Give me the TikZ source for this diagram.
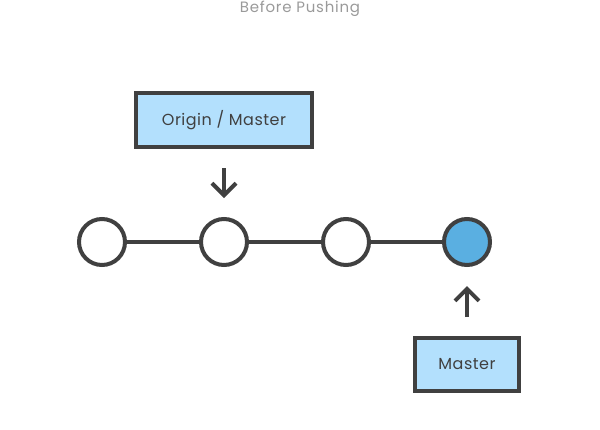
\documentclass[tikz,border=0pt]{standalone}
\usepackage{fontspec}
\setmainfont{Poppins}[LetterSpace=3]
\newfontfamily\titlefont{Poppins}[LetterSpace=5]
\usetikzlibrary{arrows.meta}
\definecolor{ink}{HTML}{404040}
\definecolor{boxblue}{HTML}{B3E0FD}
\definecolor{headblue}{HTML}{5AAFE1}
\definecolor{titlegray}{HTML}{9A9A9A}

\begin{document}
\begin{tikzpicture}[
  x=1pt,y=-1pt,
  font=\fontsize{16}{19}\selectfont,
  commit/.style={circle,draw=ink,fill=white,line width=4pt,minimum size=46pt,inner sep=0pt},
  head/.style={commit,fill=headblue},
  ref/.style={draw=ink,fill=boxblue,line width=4pt,inner sep=0pt,text=ink},
  link/.style={draw=ink,line width=4.5pt},
  ptr/.style={draw=ink,line width=4pt,-{Straight Barb[length=12pt,width=24pt]},
              shorten <=19pt,shorten >=19pt},
]
\useasboundingbox (0,0) rectangle (600,429);

% title
\node[anchor=base,text=titlegray,font=\titlefont\fontsize{15}{17}\selectfont] (title) at (300,12) {Before Pushing};

% commits
\node[commit] (c1) at (102,242) {};
\node[commit] (c2) at (224,242) {};
\node[commit] (c3) at (346,242) {};
\node[head]   (c4) at (467,242) {};

\foreach \i/\j in {1/2,2/3,3/4}{\draw[link] (c\i) -- (c\j);}

% branch labels
\node[ref,minimum width=176pt,minimum height=54pt] (origin) at (224,120) {Origin / Master};
\node[ref,minimum width=104pt,minimum height=53pt] (master) at (467,364.5) {Master};

\draw[ptr] (origin) -- (c2);
\draw[ptr] (master) -- (c4);
\end{tikzpicture}
\end{document}
